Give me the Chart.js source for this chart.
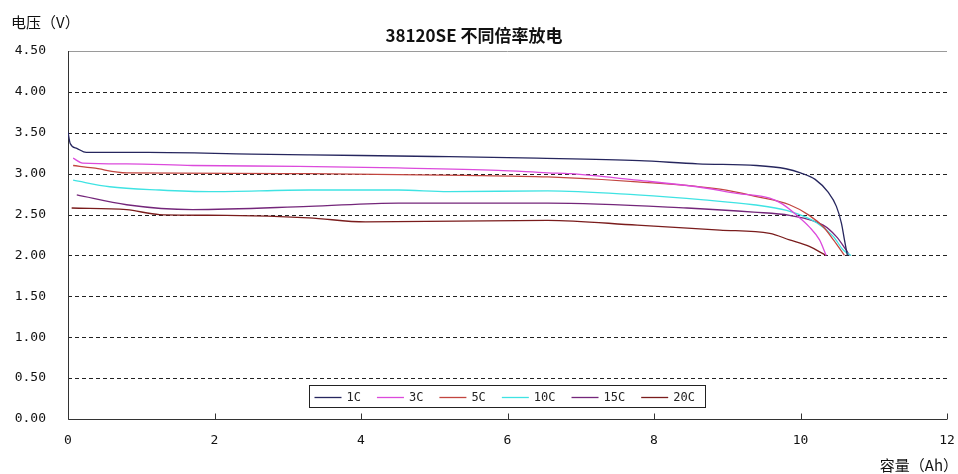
<!DOCTYPE html>
<html>
<head>
<meta charset="utf-8">
<script src="https://cdn.jsdelivr.net/npm/chart.js@4.4.1/dist/chart.umd.min.js"></script>
<style>
  html, body { margin: 0; padding: 0; background: #fff; }
  #wrap { width: 958px; height: 474px; position: relative; }
</style>
</head>
<body>
<div id="wrap"><canvas id="c" width="958" height="474"></canvas></div>
<script>
// Discharge curves of the 38120SE cell at different rates: capacity (Ah) vs voltage (V)
const chartTitle = '38120SE 不同倍率放电';
const yTitle = '电压（V）';
const xTitle = '容量（Ah）';
const seriesNames = ['1C', '3C', '5C', '10C', '15C', '20C'];

const cap1C = [0, 0.03, 0.12, 0.25, 1.1, 2.5, 3.3, 5.0, 6.4, 7.8, 8.6, 9.4, 9.8, 10.0, 10.2, 10.38, 10.49, 10.56, 10.60, 10.64];
const volt1C = [3.51, 3.37, 3.31, 3.26, 3.26, 3.24, 3.23, 3.21, 3.19, 3.16, 3.12, 3.10, 3.06, 3.01, 2.93, 2.77, 2.60, 2.39, 2.19, 2.00];

const cap3C = [0.07, 0.2, 0.8, 1.7, 3.15, 4.5, 5.87, 6.55, 6.86, 7.77, 8.59, 9.13, 9.58, 9.75, 9.95, 10.12, 10.26, 10.35];
const volt3C = [3.19, 3.13, 3.12, 3.10, 3.09, 3.07, 3.04, 3.01, 3.00, 2.92, 2.84, 2.76, 2.70, 2.63, 2.49, 2.35, 2.19, 2.00];

const cap5C = [0.07, 0.34, 0.8, 3.29, 5.42, 6.55, 7.77, 8.9, 9.4, 9.85, 10.12, 10.31, 10.45, 10.6];
const volt5C = [3.10, 3.07, 3.01, 3.00, 2.98, 2.96, 2.90, 2.81, 2.72, 2.62, 2.49, 2.35, 2.19, 2.00];

const cap10C = [0.07, 0.57, 1.25, 1.93, 3.29, 4.51, 5.19, 6.55, 7.77, 8.68, 9.36, 9.81, 10.22, 10.45, 10.58, 10.69];
const volt10C = [2.92, 2.84, 2.80, 2.78, 2.80, 2.80, 2.78, 2.79, 2.74, 2.68, 2.62, 2.55, 2.40, 2.23, 2.07, 2.00];

const cap15C = [0.12, 0.8, 1.7, 3.29, 4.51, 6.55, 8.45, 9.36, 9.85, 10.31, 10.49, 10.62, 10.67];
const volt15C = [2.74, 2.62, 2.56, 2.60, 2.64, 2.64, 2.58, 2.53, 2.49, 2.37, 2.23, 2.07, 2.00];

const cap20C = [0.05, 0.8, 1.25, 2.16, 3.29, 4.06, 6.55, 7.77, 8.9, 9.58, 9.85, 10.12, 10.35];
const volt20C = [2.58, 2.56, 2.50, 2.49, 2.46, 2.41, 2.43, 2.37, 2.31, 2.27, 2.19, 2.11, 2.00];

const xTicksMax = 12;
const yTicksMax = 4.5;

const seriesCaps = [cap1C, cap3C, cap5C, cap10C, cap15C, cap20C];
const seriesVolts = [volt1C, volt3C, volt5C, volt10C, volt15C, volt20C];
const seriesColors = ['#26265e', '#dc4adc', '#c2453f', '#3fe3e3', '#74267a', '#7a1c1c'];

const datasets = seriesNames.map((name, i) => ({
  label: name,
  data: seriesCaps[i].map((x, k) => ({ x: x, y: seriesVolts[i][k] })),
  borderColor: seriesColors[i],
  backgroundColor: seriesColors[i],
  borderWidth: 1.3,
  pointRadius: 0,
  showLine: true,
  fill: false,
  cubicInterpolationMode: 'monotone'
}));

const tickFont = { family: "'DejaVu Sans Mono', monospace", size: 13 };

// Grid, axes, inner tick marks, boxed legend and titles
const decor = {
  id: 'decor',
  beforeDatasetsDraw(chart) {
    const { ctx, chartArea: a, scales: { x, y } } = chart;
    ctx.save();
    ctx.lineWidth = 1;
    y.ticks.forEach(t => {
      const py = Math.round(y.getPixelForValue(t.value)) + 0.5;
      if (t.value === 0) return;
      if (t.value === yTicksMax) {
        ctx.setLineDash([]);
        ctx.strokeStyle = '#9a9a9a';
      } else {
        ctx.setLineDash([4, 3]);
        ctx.strokeStyle = '#222';
      }
      ctx.beginPath();
      ctx.moveTo(a.left, py);
      ctx.lineTo(a.right, py);
      ctx.stroke();
    });
    ctx.setLineDash([]);
    ctx.strokeStyle = '#333';
    ctx.beginPath();
    const lx = Math.round(a.left) + 0.5, by = Math.round(a.bottom) + 0.5;
    ctx.moveTo(lx, Math.round(a.top));
    ctx.lineTo(lx, by);
    ctx.lineTo(a.right, by);
    ctx.stroke();
    // small inward tick marks on the capacity axis
    x.ticks.forEach(t => {
      const px = Math.round(x.getPixelForValue(t.value)) + 0.5;
      ctx.beginPath();
      ctx.moveTo(px, by);
      ctx.lineTo(px, by - 6);
      ctx.stroke();
    });
    ctx.restore();
  },
  afterDraw(chart) {
    const { ctx, chartArea: a } = chart;
    ctx.save();
    // titles
    ctx.fillStyle = '#111';
    ctx.textBaseline = 'middle';
    ctx.font = "bold 17px 'Noto Sans CJK SC', sans-serif";
    ctx.textAlign = 'center';
    ctx.fillText(chartTitle, 474, 36);
    ctx.font = "15px 'Noto Sans CJK SC', sans-serif";
    ctx.textAlign = 'left';
    ctx.fillText(yTitle, 11, 22);
    ctx.textAlign = 'right';
    ctx.fillText(xTitle, 958, 465);

    // legend box inside the plot area, near the bottom
    ctx.font = "12px 'DejaVu Sans Mono', monospace";
    const sample = 27, gapText = 5, gapItem = 16, padL = 5, padR = 11;
    const items = chart.data.datasets.map(d => ({ label: d.label, color: d.borderColor, w: ctx.measureText(d.label).width }));
    let total = padL + padR;
    items.forEach((it, i) => { total += sample + gapText + it.w + (i < items.length - 1 ? gapItem : 0); });
    const h = 22;
    const bx = Math.round((a.left + a.right) / 2 - total / 2) + 0.5;
    const byTop = Math.round(a.bottom - 12 - h) + 0.5;
    ctx.fillStyle = '#fff';
    ctx.fillRect(bx, byTop, total, h);
    ctx.strokeStyle = '#222';
    ctx.lineWidth = 1;
    ctx.strokeRect(bx, byTop, Math.round(total), h);
    let cx = bx + padL;
    const cy = byTop + h / 2;
    items.forEach(it => {
      ctx.strokeStyle = it.color;
      ctx.lineWidth = 1.3;
      ctx.beginPath();
      ctx.moveTo(cx, Math.round(cy) + 0.5);
      ctx.lineTo(cx + sample, Math.round(cy) + 0.5);
      ctx.stroke();
      ctx.fillStyle = '#222';
      ctx.textAlign = 'left';
      ctx.fillText(it.label, cx + sample + gapText, cy + 1);
      cx += sample + gapText + it.w + gapItem;
    });
    ctx.restore();
  }
};

new Chart(document.getElementById('c'), {
  type: 'scatter',
  data: { datasets: datasets },
  options: {
    responsive: false,
    animation: false,
    events: [],
    layout: { padding: { left: 0, right: 0, top: 51, bottom: 0 } },
    plugins: {
      legend: { display: false },
      title: { display: false },
      tooltip: { enabled: false }
    },
    scales: {
      x: {
        type: 'linear',
        min: 0,
        max: xTicksMax,
        afterFit: s => { s.height = 55; s.paddingLeft = 0; s.paddingRight = 11; },
        grid: { display: false, drawTicks: false },
        border: { display: false },
        ticks: { stepSize: 2, padding: 14, color: '#111', font: tickFont, maxRotation: 0 }
      },
      y: {
        type: 'linear',
        min: 0,
        max: yTicksMax,
        afterFit: s => { s.width = 68; s.paddingTop = 0; s.paddingBottom = 0; },
        grid: { display: false, drawTicks: false },
        border: { display: false },
        ticks: {
          stepSize: 0.5,
          padding: 22,
          color: '#111',
          font: tickFont,
          callback: v => Number(v).toFixed(2)
        }
      }
    }
  },
  plugins: [decor]
});
</script>
</body>
</html>
